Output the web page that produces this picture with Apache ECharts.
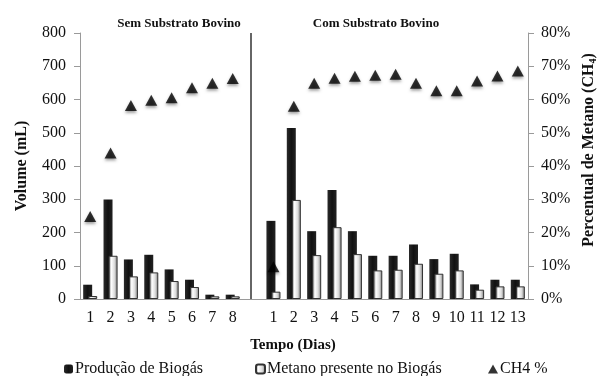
<!DOCTYPE html>
<html>
<head>
<meta charset="utf-8">
<script src="https://cdn.jsdelivr.net/npm/echarts@6/dist/echarts.min.js"></script>
<style>
  html, body { margin: 0; padding: 0; background: #fff; }
  #chart { width: 599px; height: 376px; }
</style>
</head>
<body>
<div id="chart"></div>
<script>
// days, the empty slot separates the two experiments
const diasSem = ['1', '2', '3', '4', '5', '6', '7', '8']
const diasCom = ['1', '2', '3', '4', '5', '6', '7', '8', '9', '10', '11', '12', '13']

// volume (mL)
const biogasSem = [43, 299, 119, 133, 89, 58, 13, 13]
const biogasCom = [235, 514, 204, 328, 204, 130, 130, 164, 120, 136, 44, 58, 58]
const metanoSem = [9, 130, 68, 80, 54, 36, 8, 8]
const metanoCom = [22, 298, 132, 216, 135, 86, 88, 106, 76, 86, 28, 38, 38]

// CH4 %
const ch4Sem = [24.8, 43.9, 58.2, 59.8, 60.5, 63.5, 64.9, 66.3]
const ch4Com = [9.7, 58, 64.9, 66.4, 67, 67.3, 67.6, 64.9, 62.6, 62.6, 65.6, 67.1, 68.6]

const dias = [...diasSem, '', ...diasCom]
const biogas = [...biogasSem, null, ...biogasCom]
const metano = [...metanoSem, null, ...metanoCom]
const ch4 = [...ch4Sem, null, ...ch4Com]

const serif = '"Liberation Serif", "DejaVu Serif", serif'
const axisGray = '#9a9a9a'

const chart = echarts.init(document.getElementById('chart'))

const legendBase = {
  top: 356,
  itemWidth: 9,
  itemHeight: 9,
  selectedMode: false,
  textStyle: { fontFamily: serif, fontSize: 16, color: '#111', padding: [0, 0, 0, -3] }
}

const option = {
  animation: false,
  title: [
    {
      text: 'Sem Substrato Bovino',
      left: 174,
      top: 12,
      textAlign: 'center',
      textStyle: { fontFamily: serif, fontSize: 13, fontWeight: 'bold', color: '#111' }
    },
    {
      text: 'Com Substrato Bovino',
      left: 371,
      top: 12,
      textAlign: 'center',
      textStyle: { fontFamily: serif, fontSize: 13, fontWeight: 'bold', color: '#111' }
    }
  ],
  legend: [
    { ...legendBase, left: 59, data: ['Produção de Biogás'] },
    { ...legendBase, left: 250, data: ['Metano presente no Biogás'] },
    { ...legendBase, left: 483, itemWidth: 10, itemHeight: 9, data: [{ name: 'CH4 %', icon: 'triangle' }] }
  ],
  grid: {
    left: 80,
    right: 71,
    top: 33,
    bottom: 77,
    outerBoundsMode: 'none'
  },
  xAxis: {
    type: 'category',
    data: dias,
    name: 'Tempo (Dias)',
    nameLocation: 'middle',
    nameGap: 39,
    nameTextStyle: { fontFamily: serif, fontSize: 15, fontWeight: 'bold', color: '#111', padding: [0, 22, 0, 0] },
    axisLine: { lineStyle: { color: axisGray } },
    axisTick: { length: 5, lineStyle: { color: axisGray } },
    axisLabel: { fontFamily: serif, fontSize: 16, color: '#111', margin: 11, interval: 0 }
  },
  yAxis: [
    {
      type: 'value',
      min: 0,
      max: 800,
      interval: 100,
      name: 'Volume (mL)',
      nameLocation: 'middle',
      nameRotate: 90,
      nameGap: 50,
      nameTextStyle: { fontFamily: serif, fontSize: 16, fontWeight: 'bold', color: '#111' },
      splitLine: { show: false },
      axisLine: { show: true, lineStyle: { color: axisGray } },
      axisTick: { show: true, length: 6, lineStyle: { color: axisGray } },
      axisLabel: { fontFamily: serif, fontSize: 16, color: '#111', margin: 14 }
    },
    {
      type: 'value',
      min: 0,
      max: 80,
      interval: 10,
      name: 'Percentual de Metano (CH{sub|4})',
      nameLocation: 'middle',
      nameRotate: 90,
      nameGap: 44,
      nameTextStyle: {
        fontFamily: serif,
        fontSize: 16,
        fontWeight: 'bold',
        color: '#111',
        padding: [0, 0, 0, 32],
        rich: {
          sub: { fontFamily: serif, fontSize: 10, fontWeight: 'bold', color: '#111', padding: [8, 0, 0, 0] }
        }
      },
      splitLine: { show: false },
      axisLine: { show: true, lineStyle: { color: axisGray } },
      axisTick: { show: true, length: 6, lineStyle: { color: axisGray } },
      axisLabel: { fontFamily: serif, fontSize: 16, color: '#111', margin: 13, formatter: '{value}%' }
    }
  ],
  series: [
    {
      name: 'Produção de Biogás',
      type: 'bar',
      data: biogas,
      barWidth: 9,
      barGap: '-44%',
      itemStyle: {
        color: new echarts.graphic.LinearGradient(0, 0, 1, 0, [
          { offset: 0, color: '#2a2a2a' },
          { offset: 0.5, color: '#111' },
          { offset: 1, color: '#222' }
        ])
      },
      markLine: {
        silent: true,
        symbol: 'none',
        label: { show: false },
        lineStyle: { color: '#333', type: 'solid', width: 1.5 },
        data: [{ xAxis: 8 }]
      }
    },
    {
      name: 'Metano presente no Biogás',
      type: 'bar',
      data: metano,
      barWidth: 9,
      itemStyle: {
        borderColor: '#333',
        borderWidth: 1,
        color: new echarts.graphic.LinearGradient(0, 0, 1, 0, [
          { offset: 0, color: '#666' },
          { offset: 0.3, color: '#fff' },
          { offset: 0.65, color: '#ddd' },
          { offset: 1, color: '#777' }
        ])
      }
    },
    {
      name: 'CH4 %',
      type: 'scatter',
      yAxisIndex: 1,
      data: ch4,
      symbol: 'triangle',
      symbolSize: [12, 11],
      itemStyle: {
        color: '#000',
        shadowBlur: 3,
        shadowColor: 'rgba(0,0,0,0.45)',
        shadowOffsetY: 2
      }
    }
  ]
}

chart.setOption(option)
</script>
</body>
</html>
